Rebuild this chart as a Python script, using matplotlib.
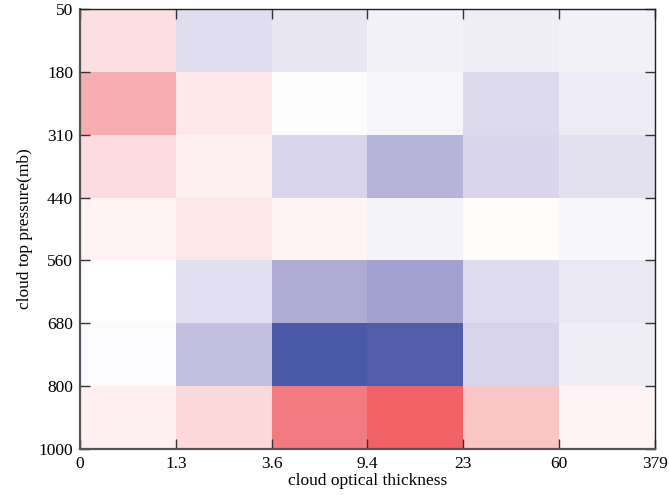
import numpy as np
import matplotlib.pyplot as plt
from matplotlib.colors import LinearSegmentedColormap

# bin edges shown as tick labels
tau_labels = ["0", "1.3", "3.6", "9.4", "23", "60", "379"]
pc_labels = ["50", "180", "310", "440", "560", "680", "800", "1000"]

# cell values, rows top (50-180 mb) to bottom (800-1000 mb)
row_50_180 = [0.20, -0.204, -0.15, -0.085, -0.105, -0.085]
row_180_310 = [0.50, 0.144, -0.02, -0.06, -0.23, -0.118]
row_310_440 = [0.218, 0.094, -0.25, -0.44, -0.25, -0.184]
row_440_560 = [0.081, 0.144, 0.063, -0.072, 0.03, -0.053]
row_560_680 = [0.0, -0.19, -0.489, -0.55, -0.217, -0.138]
row_680_800 = [-0.03, -0.372, -1.0, -0.97, -0.26, -0.105]
row_800_1000 = [0.094, 0.237, 0.804, 0.952, 0.353, 0.069]

values = np.array([row_50_180, row_180_310, row_310_440, row_440_560,
                   row_560_680, row_680_800, row_800_1000])

cmap = LinearSegmentedColormap.from_list("bwr_soft", [
    (0.0, "#4b5aa8"),
    (0.225, "#a3a1cf"),
    (0.375, "#d9d6eb"),
    (0.5, "#ffffff"),
    (0.6, "#fcdfe0"),
    (0.75, "#f6aeb1"),
    (1.0, "#ef5a5e"),
])

plt.rcParams["font.family"] = ["Liberation Serif", "DejaVu Serif"]

fig = plt.figure(figsize=(6.69, 4.95), dpi=100)
ax = fig.add_axes([0.1196, 0.0929, 0.8594, 0.8891])

x_edges = np.arange(len(tau_labels))
y_edges = np.arange(len(pc_labels))
ax.pcolormesh(x_edges, y_edges, values, cmap=cmap, vmin=-1, vmax=1)

ax.set_xlim(0, len(tau_labels) - 1)
ax.set_ylim(len(pc_labels) - 1, 0)
ax.set_xticks(x_edges)
ax.set_xticklabels(tau_labels)
ax.set_yticks(y_edges)
ax.set_yticklabels(pc_labels)

ax.tick_params(direction="in", length=7, width=1.0, color="#333333",
               top=True, right=True, labelsize=12.5, pad=5)
for side in ["left", "bottom"]:
    ax.spines[side].set_linewidth(1.6)
    ax.spines[side].set_color("#555555")
for side in ["top", "right"]:
    ax.spines[side].set_linewidth(1.0)
    ax.spines[side].set_color("#222222")

ax.set_xlabel("cloud optical thickness", fontsize=12.5, labelpad=1)
ax.set_ylabel("cloud top pressure(mb)", fontsize=12.5, labelpad=4)

fig.savefig("out.png", dpi=100)
